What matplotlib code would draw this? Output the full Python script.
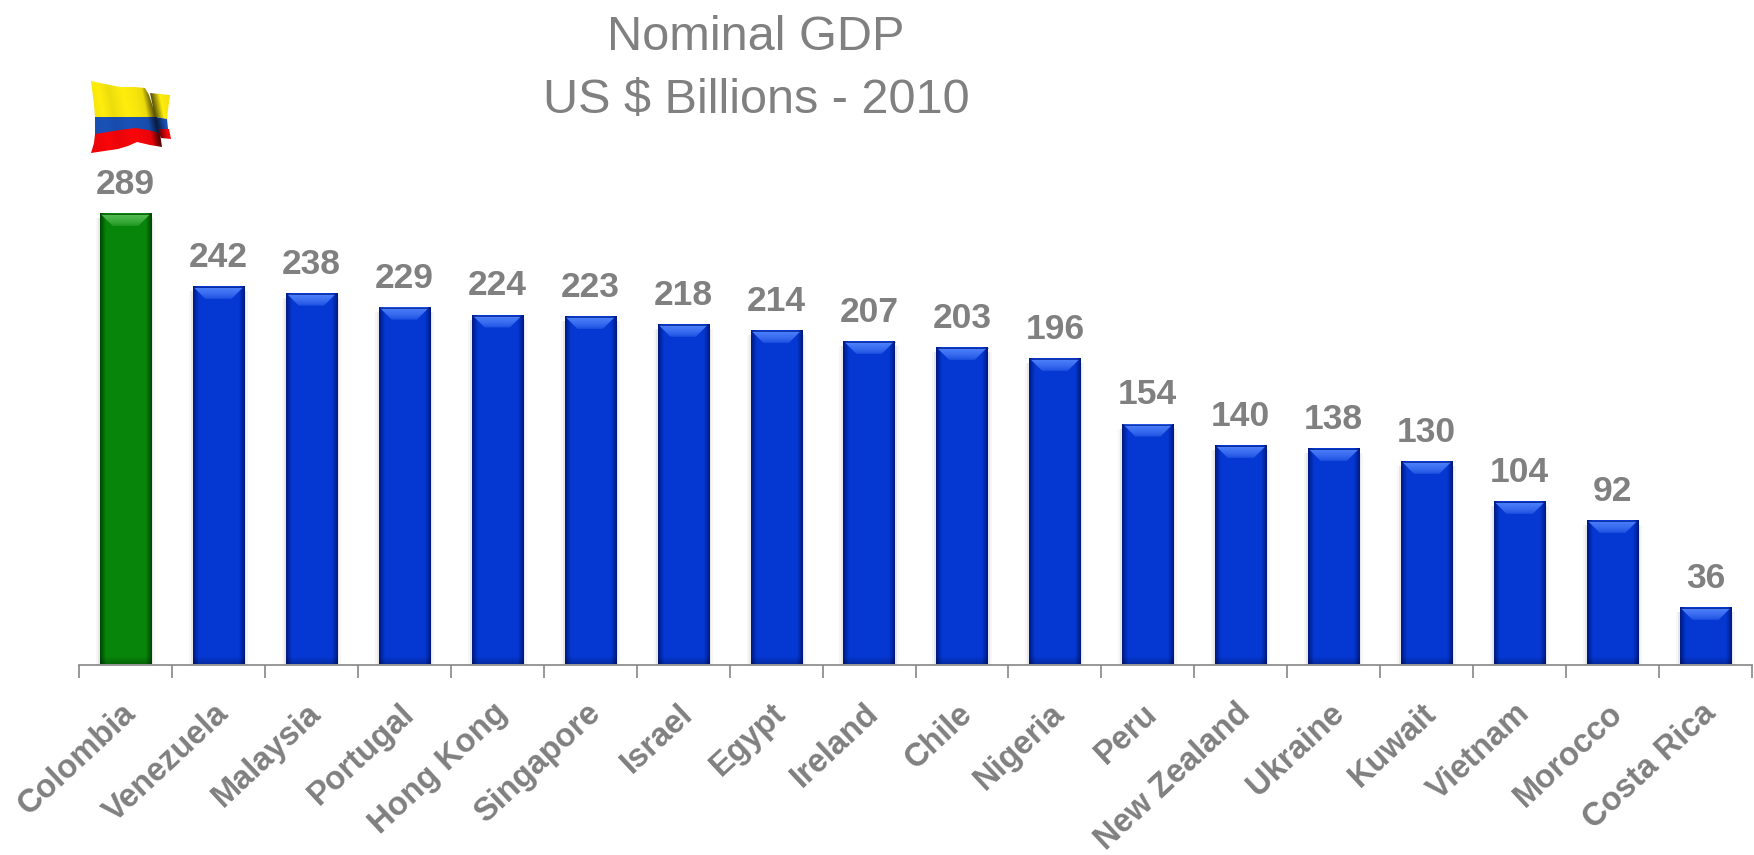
import numpy as np
import matplotlib
matplotlib.use("Agg")
import matplotlib.pyplot as plt
from matplotlib.patches import Polygon
from matplotlib.transforms import ScaledTranslation

countries = ["Colombia", "Venezuela", "Malaysia", "Portugal", "Hong Kong", "Singapore",
             "Israel", "Egypt", "Ireland", "Chile", "Nigeria", "Peru", "New Zealand",
             "Ukraine", "Kuwait", "Vietnam", "Morocco", "Costa Rica"]
gdp = [289, 242, 238, 229, 224, 223, 218, 214, 207, 203, 196, 154, 140, 138, 130, 104, 92, 36]

GRAY = "#808080"
W, H = 1754, 855
BAR_W = 0.55
PX_PER_UNIT = 1.558  # vertical pixels per US$ billion

plt.rcParams["font.family"] = ["Liberation Sans", "DejaVu Sans"]
fig = plt.figure(figsize=(W / 100, H / 100), dpi=100, facecolor="white")

# plot area starts at the baseline and runs to the top of the figure
x0, x1, base = 79, 1752, 664.5
ax = fig.add_axes([x0 / W, 1 - base / H, (x1 - x0) / W, base / H])
ax.set_xlim(-0.5, 17.5)
ax.set_ylim(0, base / PX_PER_UNIT)
px_x = 18 / (x1 - x0)
px_y = 1 / PX_PER_UNIT


def bar_image(value, edge, mid):
    # shaded bar body: darker at the sides and in the last few pixels of the foot
    t = np.abs(np.linspace(-1, 1, 60))
    side = np.clip((t - 0.78) / 0.22, 0, 1)
    rows = max(int(value * PX_PER_UNIT), 2)
    foot = 1 - 0.22 * np.clip(1 - np.arange(rows) / 7, 0, 1)
    rgb = (np.array(mid) * (1 - side[:, None]) + np.array(edge) * side[:, None])[None, :, :]
    return np.clip(rgb * foot[:, None, None], 0, 1)


for i, v in enumerate(gdp):
    if i == 0:
        edge, mid, light = (0.0, 0.28, 0.02), (0.03, 0.52, 0.04), (0.32, 0.74, 0.32)
    else:
        edge, mid, light = (0.0, 0.10, 0.52), (0.02, 0.22, 0.83), (0.30, 0.50, 0.98)
    left, right = i - BAR_W / 2, i + BAR_W / 2
    # soft shadow to the sides of the bar
    for grow, alpha in ((4, 0.03), (2, 0.06)):
        ax.bar(i, v - 4 * px_y, width=BAR_W + 2 * grow * px_x, color="black",
               alpha=alpha, linewidth=0, zorder=1)
    ax.imshow(bar_image(v, edge, mid), extent=(left, right, 0, v), aspect="auto",
              origin="lower", interpolation="bilinear", zorder=2)
    # bevelled top edge, fading from light into the bar colour
    bev_x, bev_y = 13 * px_x, 12 * px_y
    bevel = Polygon([(left + 1 * px_x, v), (right - 1 * px_x, v),
                     (right - bev_x, v - bev_y), (left + bev_x, v - bev_y)],
                    closed=True, facecolor="none", edgecolor="none", zorder=3)
    ax.add_patch(bevel)
    fade = np.sqrt(np.linspace(0.1, 1, 12))[:, None, None]
    grad = np.array(mid)[None, None, :] * (1 - fade) + np.array(light)[None, None, :] * fade
    img = ax.imshow(grad, extent=(left, right, v - bev_y, v), aspect="auto", origin="lower",
                    interpolation="bilinear", zorder=3)
    img.set_clip_path(bevel)
    ax.plot([left, right], [v, v], color=edge, lw=0.5, zorder=4, solid_capstyle="butt")
    ax.annotate(str(v), (i, v), xytext=(0, 14.5), textcoords="offset points",
                ha="center", va="baseline", fontsize=25.5, fontweight="bold", color=GRAY)

ax.set_xlim(-0.5, 17.5)
ax.set_ylim(0, base / PX_PER_UNIT)
ax.set_facecolor("none")

for s in ("top", "left", "right"):
    ax.spines[s].set_visible(False)
ax.spines["bottom"].set_color("#868686")
ax.spines["bottom"].set_linewidth(1.2)
ax.set_yticks([])
ax.set_xticks(np.arange(-0.5, 18, 1), minor=True)
ax.tick_params(axis="x", which="minor", length=9.5, width=1.2, color="#868686")
ax.set_xticks(range(len(countries)))
ax.set_xticklabels(countries, rotation=43, ha="right", va="top", rotation_mode="anchor",
                   fontsize=23.5, fontweight="bold", color=GRAY)
ax.tick_params(axis="x", which="major", length=0, pad=24)
shift = ScaledTranslation(-5 / 100, 0, fig.dpi_scale_trans)
for lab in ax.get_xticklabels():
    lab.set_transform(lab.get_transform() + shift)

fig.text(756 / W, 1 - 37 / H, "Nominal GDP", ha="center", va="center", fontsize=35, color=GRAY)
fig.text(756 / W, 1 - 100 / H, "US $ Billions - 2010", ha="center", va="center", fontsize=35, color=GRAY)

# waving flag above the first bar, drawn on a pixel-based overlay
ov = fig.add_axes([0, 0, 1, 1])
ov.set_xlim(0, W)
ov.set_ylim(H, 0)
ov.axis("off")
ov.patch.set_alpha(0)

FLAG_BOX = (90, 172, 155, 80)
# brightness across the flag; folds lean to the right on the way down
fold_x = [85, 98, 108, 122, 133, 141, 146, 149, 152, 158, 172]
fold_b = [0.95, 1.0, 0.93, 1.0, 0.97, 0.92, 0.55, 0.35, 0.55, 1.0, 0.92]


def flag_band(points, color, z=5):
    patch = Polygon(points, closed=True, facecolor="none", edgecolor="none", zorder=z)
    ov.add_patch(patch)
    xs, ys = np.meshgrid(np.arange(FLAG_BOX[0], FLAG_BOX[1]), np.arange(FLAG_BOX[3], FLAG_BOX[2]))
    shade = np.interp(xs - 0.2 * (ys - 88), fold_x, fold_b)[:, :, None]
    img = ov.imshow(np.array(color)[None, None, :] * shade, extent=FLAG_BOX, aspect="auto",
                    origin="upper", interpolation="bilinear", zorder=z)
    img.set_clip_path(patch)


YELLOW, BLUE, RED = (1.0, 0.93, 0.05), (0.10, 0.32, 0.72), (0.98, 0.02, 0.04)
# rear part of the flag
flag_band([(150, 93), (160, 94), (170, 95), (168, 110), (167, 119), (155, 117)], YELLOW, 5)
flag_band([(155, 117), (167, 119), (168, 129), (157, 130)], BLUE, 5)
flag_band([(157, 129), (169, 129), (171, 139), (161, 138)], RED, 5)
# front part of the flag
flag_band([(91, 81), (105, 84), (120, 87), (135, 87), (145, 88), (149, 95), (153, 107),
           (157, 117), (95, 117), (94, 105)], YELLOW, 6)
flag_band([(95, 117), (157, 117), (160, 134), (148, 131), (135, 129), (120, 131), (95, 135)], BLUE, 6)
flag_band([(95, 134), (120, 130), (135, 128), (148, 130), (160, 133), (162, 147), (150, 145),
           (137, 142), (128, 146), (118, 149), (91, 153), (94, 143)], RED, 6)

ov.set_xlim(0, W)
ov.set_ylim(H, 0)

fig.savefig("out.png", dpi=100, facecolor="white")
